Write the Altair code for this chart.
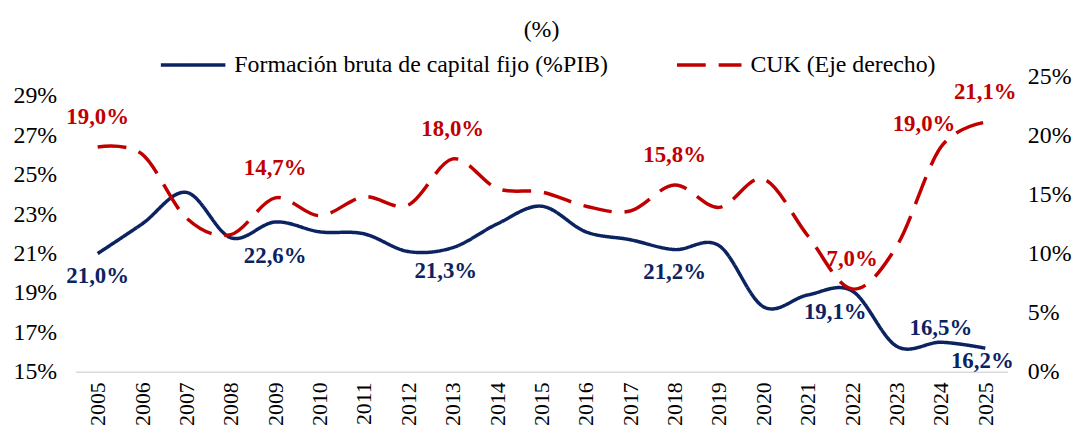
import altair as alt
import pandas as pd

years = [str(y) for y in range(2005, 2026)]
fbcf = [21.0, 22.5, 24.1, 21.8, 22.6, 22.1, 22.0, 21.1, 21.3, 22.5, 23.4,
        22.1, 21.7, 21.2, 21.4, 18.3, 18.9, 19.1, 16.3, 16.5, 16.2]
cuk = [19.0, 18.4, 13.0, 11.6, 14.7, 13.2, 14.8, 14.1, 18.0, 15.5, 15.2,
       14.0, 13.6, 15.8, 13.9, 16.3, 11.5, 7.0, 10.6, 19.0, 21.1]
left_ticks = [15, 17, 19, 21, 23, 25, 27, 29]
right_ticks = [0, 5, 10, 15, 20, 25]
series_names = ["Formación bruta de capital fijo (%PIB)", "CUK (Eje derecho)"]


def fmt(v):
    return f"{v:.1f}".replace(".", ",") + "%"


df = pd.DataFrame({
    "year": years,
    "fbcf": fbcf,
    "cuk": cuk,
    "fbcf_lbl": [fmt(v) for v in fbcf],
    "cuk_lbl": [fmt(v) for v in cuk],
})

FONT = "Liberation Serif"
BLUE = "#0B2361"
RED = "#C00000"

base = alt.Chart(df)

x_enc = alt.X(
    "year:O",
    sort=years,
    scale=alt.Scale(type="point", padding=0.5),
    axis=alt.Axis(title=None, labelAngle=270, labelFontSize=22, labelFont=FONT,
                  labelColor="black", ticks=False, domainColor="#D9D9D9",
                  domainWidth=1.5, labelPadding=10, grid=False),
)

left_scale = alt.Scale(domain=[15, 30], nice=False, zero=False)
right_scale = alt.Scale(domain=[0, 25], nice=False, zero=False)

left_axis = alt.Axis(values=left_ticks, labelExpr="datum.value + '%'", title=None,
                     ticks=False, domain=False, grid=False, labelFontSize=24,
                     labelFont=FONT, labelColor="black", labelPadding=19,
                     labelOverlap=False)
right_axis = alt.Axis(values=right_ticks, labelExpr="datum.value + '%'", title=None,
                      orient="right", ticks=False, domain=False, grid=False,
                      labelFontSize=24, labelFont=FONT, labelColor="black",
                      labelPadding=20, labelOverlap=False)

legend = alt.Legend(title=None, orient="none", legendX=84, legendY=-46,
                    direction="horizontal", symbolType="stroke", symbolSize=4225,
                    symbolStrokeWidth=3.5, labelFont=FONT, labelFontSize=24,
                    labelColor="black", labelOffset=7, columnPadding=62,
                    labelLimit=600)

color_enc = alt.Color("serie:N", scale=alt.Scale(domain=series_names, range=[BLUE, RED]),
                      legend=legend)
dash_enc = alt.StrokeDash("serie:N",
                          scale=alt.Scale(domain=series_names, range=[[1, 0], [29, 13]]),
                          legend=legend)

blue_line = base.transform_calculate(serie="'" + series_names[0] + "'").mark_line(
    strokeWidth=3.5, interpolate="cardinal"
).encode(x=x_enc, y=alt.Y("fbcf:Q", scale=left_scale, axis=left_axis),
         color=color_enc, strokeDash=dash_enc)

red_line = base.transform_calculate(serie="'" + series_names[1] + "'").mark_line(
    strokeWidth=3.5, interpolate="cardinal"
).encode(x=x_enc, y=alt.Y("cuk:Q", scale=right_scale, axis=right_axis),
         color=color_enc, strokeDash=dash_enc)


def labels(field, lbl, scale, axis, color, yrs, dx, dy):
    return base.transform_filter(
        alt.FieldOneOfPredicate(field="year", oneOf=yrs)
    ).mark_text(dx=dx, dy=dy, fontSize=23, fontWeight="bold", font=FONT,
                color=color, baseline="middle", align="center").encode(
        x=x_enc,
        y=alt.Y(f"{field}:Q", scale=scale, axis=axis),
        text=f"{lbl}:N",
    )


def bl(yrs, dx, dy):
    return labels("fbcf", "fbcf_lbl", left_scale, left_axis, BLUE, yrs, dx, dy)


def rl(yrs, dx, dy):
    return labels("cuk", "cuk_lbl", right_scale, right_axis, RED, yrs, dx, dy)


blue_layer = alt.layer(
    blue_line,
    bl(["2005", "2018"], 0, 23),
    bl(["2013"], -7, 24),
    bl(["2009"], 0, 34),
    bl(["2022"], -17, 21),
    bl(["2024"], 0, -14),
    bl(["2025"], -3, 13),
)

red_layer = alt.layer(
    red_line,
    rl(["2005", "2009", "2013", "2018", "2022", "2025"], 0, -30),
    rl(["2024"], -17, -23),
)

chart = alt.layer(blue_layer, red_layer).resolve_scale(y="independent").properties(
    width=939,
    height=298,
    padding={"left": 68, "top": 67, "right": 66, "bottom": 54},
    autosize=alt.AutoSizeParams(type="none"),
    title=alt.TitleParams("(%)", fontSize=24, font=FONT, fontWeight="normal",
                          anchor="middle", offset=-12, color="black"),
).configure_view(stroke=None)

chart.save("out.html", embed_options={"renderer": "svg", "actions": False})
